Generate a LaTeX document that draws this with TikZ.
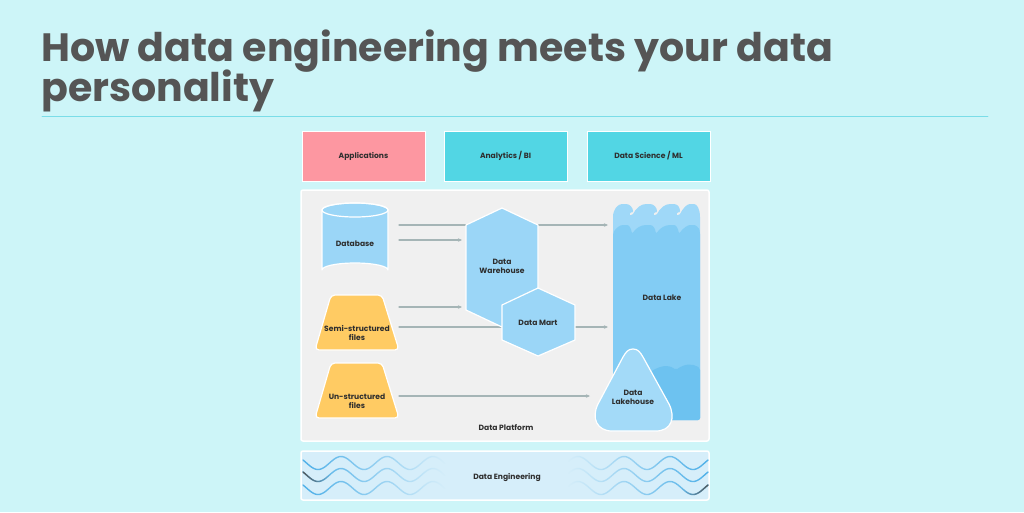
\documentclass[tikz,border=0pt]{standalone}
\usepackage{fontspec}
\setmainfont{Poppins}
\usetikzlibrary{arrows.meta,fadings}

\definecolor{bgcyan}{HTML}{CDF5F8}
\definecolor{titlegray}{HTML}{555555}
\definecolor{rulecyan}{HTML}{7ADDE8}
\definecolor{apppink}{HTML}{FD97A1}
\definecolor{biteal}{HTML}{52D6E4}
\definecolor{panelgray}{HTML}{F0F0F0}
\definecolor{shapeblue}{HTML}{9BD6F7}
\definecolor{fileyellow}{HTML}{FFCB63}
\definecolor{lakelight}{HTML}{9FD8F8}
\definecolor{lakemid}{HTML}{82CCF4}
\definecolor{lakedark}{HTML}{6DC2F0}
\definecolor{lhblue}{HTML}{A3DAF8}
\definecolor{flowgray}{HTML}{A5B5B6}
\definecolor{engblue}{HTML}{D6EEFA}
\definecolor{waveblue}{HTML}{4FB0E8}
\definecolor{inkdark}{HTML}{2E2E2E}

\tikzset{
  lbl/.style={font=\bfseries\fontsize{7.6}{9}\selectfont, text=inkdark, align=center, inner sep=0pt},
  topbox/.style={draw=white, line width=1pt, minimum width=123, minimum height=50, inner sep=0pt},
  shapeline/.style={draw=white, line width=1.2pt, line join=round},
  flow/.style={draw=flowgray, line width=1.1pt, -{Stealth[length=4pt,width=3.5pt]}},
  wave/.style={line width=1.4pt, draw=waveblue}
}

\begin{document}
\begin{tikzpicture}[x=1pt, y=-1pt, line cap=round]

  %% ════ 背景 + 标题 ════
  \fill[bgcyan] (0,0) rectangle (1024,512);
  \node[anchor=base west, inner sep=0pt, text=titlegray, font=\bfseries\fontsize{39.5}{44}\selectfont] (title1) at (41,61) {How data engineering meets your data};
  \node[anchor=base west, inner sep=0pt, text=titlegray, font=\bfseries\fontsize{39.5}{44}\selectfont] (title2) at (41,101) {personality};
  \draw[rulecyan, line width=0.9pt] (42,116) -- (988,116);

  %% ════ 上排三个方框 ════
  \node[topbox, fill=apppink] (apps) at (363.5,156) {};
  \node[topbox, fill=biteal]  (bi)   at (505.5,156) {};
  \node[topbox, fill=biteal]  (ml)   at (648.5,156) {};
  \node[lbl] (appslbl) at (apps) {Applications};
  \node[lbl] (bilbl)   at (bi)   {Analytics / BI};
  \node[lbl] (mllbl)   at (ml)   {Data Science / ML};

  %% ════ Data Platform 面板 ════
  \draw[fill=panelgray, draw=white, line width=1.5pt, rounded corners=2pt] (301,190) rectangle (709,441);

  %% ════ 箭头（先画：会被仓库和数据集市盖住）════
  \coordinate (db-a)   at (399,225);  \coordinate (lake-a) at (608,225);
  \coordinate (db-b)   at (399,240);  \coordinate (dw-b)   at (462,240);
  \coordinate (semi-a) at (399,307);  \coordinate (dw-c)   at (462,307);
  \coordinate (semi-b) at (399,327);  \coordinate (lake-b) at (608,327);
  \coordinate (un-a)   at (399,396);  \coordinate (lh-a)   at (590,396);
  \draw[flow] (db-a) -- (lake-a);
  \draw[flow] (db-b) -- (dw-b);
  \draw[flow] (semi-a) -- (dw-c);
  \draw[flow] (semi-b) -- (lake-b);
  \draw[flow] (un-a) -- (lh-a);

  %% ════ 数据库圆柱 ════
  \draw[shapeline, fill=shapeblue] (322,210) -- (322,270) arc[start angle=180, end angle=360, x radius=33, y radius=7] -- (388,210) arc[start angle=0, end angle=-180, x radius=33, y radius=7] -- cycle;
  \draw[shapeline] (322,210) arc[start angle=180, end angle=540, x radius=33, y radius=7];

  %% ════ 文件梯形 ════
  \draw[shapeline, fill=fileyellow, rounded corners=4pt] (331,295) -- (382,295) -- (399,350) -- (315,350) -- cycle;
  \draw[shapeline, fill=fileyellow, rounded corners=4pt] (331,363) -- (382,363) -- (399,418) -- (315,418) -- cycle;

  %% ════ 数据仓库 + 数据集市（六边形）════
  \draw[shapeline, fill=shapeblue] (502,208) -- (538,225) -- (538,310) -- (502,327) -- (466,310) -- (466,225) -- cycle;
  \draw[shapeline, fill=shapeblue] (538,288) -- (575,305) -- (575,340) -- (538,356) -- (502,340) -- (502,305) -- cycle;

  %% ════ 数据湖 ════
  \fill[lakelight, rounded corners=2pt] (613,420) -- (613,219)
     .. controls (613,209) and (618,204) .. (624,204)
     .. controls (630,204) and (633,208) .. (633,213)
     .. controls (630,212) and (629,215) .. (632,216)
     .. controls (636,208) and (641,204) .. (648,204)
     .. controls (654,204) and (657,208) .. (657,213)
     .. controls (654,212) and (653,215) .. (656,216)
     .. controls (660,208) and (665,204) .. (672,204)
     .. controls (678,204) and (680,208) .. (680,213)
     .. controls (677,212) and (676,215) .. (679,216)
     .. controls (683,208) and (687,204) .. (692,204)
     .. controls (697,204) and (700,209) .. (700,219) -- (700,420) -- cycle;
  \fill[lakemid, rounded corners=2pt] (613,420) -- (613,233)
     .. controls (616,228) and (620,225) .. (625,225)
     .. controls (629,225) and (631,228) .. (632,234)
     .. controls (636,228) and (641,225) .. (648,225)
     .. controls (653,225) and (655,228) .. (656,234)
     .. controls (660,228) and (665,225) .. (672,225)
     .. controls (676,225) and (678,228) .. (679,234)
     .. controls (683,228) and (688,225) .. (692,225)
     .. controls (696,225) and (699,228) .. (700,232) -- (700,420) -- cycle;
  \fill[lakedark, rounded corners=2pt] (613,420) -- (613,380)
     .. controls (630,370) and (640,368) .. (650,372)
     .. controls (660,366) and (668,364) .. (676,370)
     .. controls (684,364) and (692,363) .. (700,368) -- (700,420) -- cycle;

  %% ════ 数据湖仓（圆角三角）════
  \draw[shapeline, fill=lhblue] (633,349)
     .. controls (628,349) and (626,352) .. (623,357) -- (598,404)
     .. controls (591,418) and (597,431) .. (612,431) -- (656,431)
     .. controls (671,431) and (676,418) .. (669,404) -- (643,357)
     .. controls (640,352) and (638,349) .. (633,349) -- cycle;

  %% ════ 标签 ════
  \node[lbl] (db)    at (355,244) {Database};
  \node[lbl] (semi)  at (357,333) {Semi-structured\\files};
  \node[lbl] (unstr) at (357,401) {Un-structured\\files};
  \node[lbl] (dw)    at (502,266) {Data\\Warehouse};
  \node[lbl] (dm)    at (538,323) {Data Mart};
  \node[lbl] (lake)  at (662,298) {Data Lake};
  \node[lbl] (lh)    at (633,397) {Data\\Lakehouse};
  \node[lbl] (plat)  at (506,428) {Data Platform};

  %% ════ Data Engineering 条 ════
  \draw[fill=engblue, draw=white, line width=1.5pt, rounded corners=2pt] (301,451) rectangle (709,500);
  \foreach \yc in {463,475,488}{
    \draw[wave, path fading=east] plot[domain=303:445, samples=80] (\x, {\yc+6.5*cos((\x-318)/46*360)});
    \draw[wave, path fading=west] plot[domain=568:708, samples=80] (\x, {\yc+6.5*cos((\x-693)/46*360)});
  }
  \draw[line width=1.4pt, draw=titlegray, path fading=east] plot[domain=303:330, samples=20] (\x, {475+6.5*cos((\x-318)/46*360)});
  \draw[line width=1.4pt, draw=titlegray, path fading=west] plot[domain=682:708, samples=20] (\x, {488+6.5*cos((\x-693)/46*360)});
  \node[lbl] (eng) at (507,477) {Data Engineering};

  \pgfresetboundingbox
  \path[use as bounding box] (0,0) rectangle (1024,512);
\end{tikzpicture}
\end{document}
